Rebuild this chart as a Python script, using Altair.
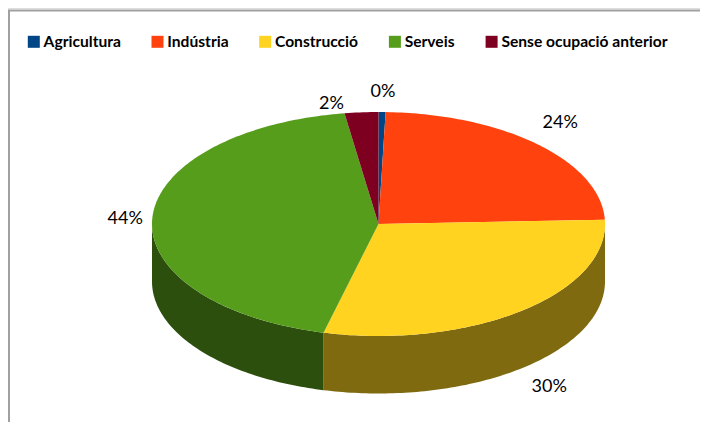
import math
import altair as alt

categories = ["Agricultura", "Indústria", "Construcció", "Serveis", "Sense ocupació anterior"]
shares = [0.5, 23.9, 29.5, 43.7, 2.4]
labels = ["0%", "24%", "30%", "44%", "2%"]
top_colors = ["#004586", "#ff420e", "#ffd320", "#579d1c", "#7e0021"]
side_colors = ["#00233f", "#802107", "#7f6a10", "#2c4f0e", "#3f0011"]

# layout (pixels inside the chart area)
CX, CY, RX, RY, DEPTH = 370.5, 216, 226.5, 112, 57.5
label_offsets = [(1, -20), (22, -21.5), (28, 19), (-27, 0), (-30, -8)]
LABEL_DEPTH = [0, 0, 1, 0, 0]


def pt(t_deg, drop=0):
    t = math.radians(t_deg)
    return [CX + RX * math.sin(t), CY - RY * math.cos(t) + drop]


def arc(a, b, drop=0):
    n = max(2, int(abs(b - a)) + 2)
    return [pt(a + (b - a) * i / (n - 1), drop) for i in range(n)]


top_features, side_features, label_rows = [], [], []
start = 0.0
for i, name in enumerate(categories):
    end = start + shares[i] * 3.6
    ring = [[CX, CY]] + arc(start, end) + [[CX, CY]]
    top_features.append({
        "type": "Feature",
        "properties": {"name": name},
        "geometry": {"type": "Polygon", "coordinates": [ring]},
    })
    a, b = max(start, 90.0), min(end, 270.0)
    if b > a:
        wall = arc(a, b) + arc(b, a, DEPTH)
        wall.append(wall[0])
        side_features.append({
            "type": "Feature",
            "properties": {"color": side_colors[i]},
            "geometry": {"type": "Polygon", "coordinates": [wall]},
        })
    mid = pt((start + end) / 2, LABEL_DEPTH[i] * DEPTH)
    label_rows.append({
        "label": labels[i],
        "lon": mid[0] + label_offsets[i][0],
        "lat": mid[1] + label_offsets[i][1],
    })
    start = end

projection = alt.Projection(type="identity", scale=1, translate=[0, 0])

sides = (
    alt.Chart(alt.Data(values=side_features))
    .mark_geoshape(strokeWidth=0)
    .encode(color=alt.Color("properties.color:N", scale=None, legend=None))
    .project(**projection.to_dict())
)

tops = (
    alt.Chart(alt.Data(values=top_features))
    .mark_geoshape(strokeWidth=0)
    .encode(
        color=alt.Color(
            "properties.name:N",
            scale=alt.Scale(domain=categories, range=top_colors),
            sort=categories,
            legend=alt.Legend(
                title=None,
                orient="none",
                legendX=18,
                legendY=26,
                direction="horizontal",
                columns=5,
                gridAlign="none",
                symbolType="square",
                symbolSize=144,
                symbolStrokeWidth=0,
                symbolOpacity=1,
                labelFont="Lato",
                labelFontWeight="bold",
                labelFontSize=15.6,
                labelColor="#000000",
                labelOffset=2,
                columnPadding=28.7,
                labelLimit=300,
                padding=0,
            ),
        )
    )
    .project(**projection.to_dict())
)

text = (
    alt.Chart(alt.Data(values=label_rows))
    .mark_text(font="Lato", fontSize=18, color="#000000", align="center", baseline="middle")
    .encode(longitude="lon:Q", latitude="lat:Q", text="label:N")
    .project(**projection.to_dict())
)

frame_left = alt.Chart(alt.Data(values=[{}])).mark_rule(color="#a0a0a0", strokeWidth=2).encode(
    x=alt.value(1), y=alt.value(2.5), y2=alt.value(414)
)
frame_top = alt.Chart(alt.Data(values=[{}])).mark_rule(color="#a0a0a0", strokeWidth=2).encode(
    x=alt.value(0), x2=alt.value(692), y=alt.value(2.5)
)

chart = (
    alt.layer(frame_left, frame_top, sides, tops, text)
    .resolve_scale(color="independent")
    .properties(width=692, height=414, padding=0, autosize=alt.AutoSizeParams(type="none"))
    .configure_view(stroke=None)
    .configure(background="#ffffff")
)

chart.save("out.html", embed_options={"renderer": "svg", "actions": False})
